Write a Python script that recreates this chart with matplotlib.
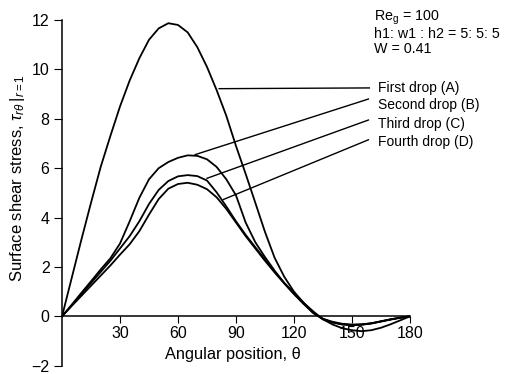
import numpy as np
import matplotlib
matplotlib.use("Agg")
import matplotlib.pyplot as plt

plt.rcParams["font.family"] = ["Liberation Sans", "DejaVu Sans"]
plt.rcParams["mathtext.fontset"] = "custom"
plt.rcParams["mathtext.rm"] = "Liberation Sans"
plt.rcParams["mathtext.it"] = "Liberation Sans:italic"

## data (angle in degrees)
theta = [0, 5, 10, 15, 20, 25, 30, 35, 40, 45, 50, 55, 60, 65, 70, 75, 80, 85, 90,
         95, 100, 105, 110, 115, 120, 125, 130, 135, 140, 145, 150, 155, 160, 165,
         170, 175, 180]

drop_a = [0, 1.55, 3.1, 4.6, 6.05, 7.3, 8.5, 9.55, 10.45, 11.2, 11.66, 11.87, 11.8,
          11.5, 10.9, 10.1, 9.16, 8.12, 6.9, 5.77, 4.6, 3.42, 2.37, 1.6, 1.0, 0.55,
          0.2, -0.12, -0.33, -0.48, -0.56, -0.6, -0.56, -0.46, -0.32, -0.16, 0]
drop_b = [0, 0.47, 0.95, 1.42, 1.9, 2.35, 2.95, 3.85, 4.8, 5.55, 6.0, 6.25, 6.42,
          6.52, 6.5, 6.36, 6.05, 5.55, 4.9, 3.8, 3.0, 2.4, 1.85, 1.35, 0.95, 0.55,
          0.15, -0.1, -0.22, -0.3, -0.33, -0.32, -0.28, -0.2, -0.12, -0.05, 0]
drop_c = [0, 0.45, 0.9, 1.35, 1.8, 2.25, 2.75, 3.25, 3.85, 4.55, 5.12, 5.48, 5.67,
          5.72, 5.68, 5.5, 5.02, 4.45, 3.85, 3.3, 2.8, 2.3, 1.8, 1.35, 0.92, 0.52,
          0.15, -0.1, -0.24, -0.32, -0.35, -0.33, -0.28, -0.2, -0.12, -0.05, 0]
drop_d = [0, 0.42, 0.83, 1.24, 1.65, 2.06, 2.5, 2.92, 3.45, 4.12, 4.75, 5.17, 5.36,
          5.41, 5.33, 5.15, 4.82, 4.35, 3.8, 3.25, 2.75, 2.25, 1.78, 1.33, 0.9, 0.5,
          0.13, -0.12, -0.25, -0.33, -0.36, -0.34, -0.29, -0.21, -0.13, -0.06, 0]

labels = ["First drop (A)", "Second drop (B)", "Third drop (C)", "Fourth drop (D)"]
# leader lines: point on curve -> point near label
lead_start = [(81.3, 9.22), (68.9, 6.55), (75.0, 5.59), (83.4, 4.73)]
lead_end = [(159.0, 9.25), (158.5, 8.8), (158.5, 7.95), (158.5, 7.15)]
label_y = [9.25, 8.55, 7.8, 7.05]

xticks = [30, 60, 90, 120, 150, 180]
yticks = [-2, 0, 2, 4, 6, 8, 10, 12]

fig = plt.figure(figsize=(5.05, 3.74), dpi=100)
ax = fig.add_axes([0.1228, 0.022, 0.689, 0.9245])

for ys in [drop_a, drop_b, drop_c, drop_d]:
    ax.plot(theta, ys, color="black", lw=1.3)

for (x0, y0), (x1, y1), lab, ly in zip(lead_start, lead_end, labels, label_y):
    ax.plot([x0, x1], [y0, y1], color="black", lw=1.0)
    ax.text(163.5, ly, lab, fontsize=10, va="center", ha="left", clip_on=False)

ax.text(161.5, 12.08, "Re$_\\mathregular{g}$ = 100", fontsize=10.3, va="center")
ax.text(161.5, 11.45, "h1: w1 : h2 = 5: 5: 5", fontsize=10.3, va="center")
ax.text(161.5, 10.82, "W = 0.41", fontsize=10.3, va="center")

ax.set_xlim(0, 180)
ax.set_ylim(-2, 12)
ax.spines["top"].set_visible(False)
ax.spines["right"].set_visible(False)
ax.spines["bottom"].set_position(("data", 0))
ax.spines["left"].set_linewidth(1.1)
ax.spines["bottom"].set_linewidth(1.1)
ax.set_xticks(xticks)
ax.set_yticks(yticks)
ax.set_yticklabels(["\u22122" if v < 0 else str(v) for v in yticks])
ax.tick_params(axis="x", direction="out", length=5, pad=2, labelsize=11.5)
ax.tick_params(axis="y", direction="out", length=6, pad=3, labelsize=11.5)

ax.text(88.5, -1.55, "Angular position, \u03b8", fontsize=11.8, ha="center",
        va="center")
fig.text(0.034, 0.524, "Surface shear stress, $\\tau_{r\\theta}\\,|_{r=1}$",
         fontsize=12, rotation=90, ha="center", va="center")

plt.savefig("out.png", dpi=100)
